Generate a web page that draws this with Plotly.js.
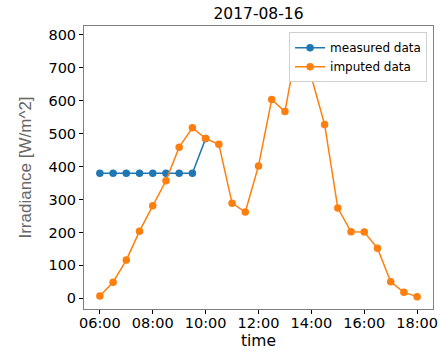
<!DOCTYPE html>
<html>
<head>
<meta charset="utf-8">
<script src="https://cdn.plot.ly/plotly-3.0.1.min.js"></script>
<style>
  html, body { margin: 0; padding: 0; background: #fff; }
  #chart { width: 439px; height: 350px; }
</style>
</head>
<body>
<div id="chart"></div>
<script>
// Half-hourly irradiance on 2017-08-16
const day = '2017-08-16';
const measuredTimes = ['06:00', '06:30', '07:00', '07:30', '08:00', '08:30', '09:00', '09:30', '10:00'];
const measuredValues = [380, 380, 380, 380, 380, 380, 380, 380, 485];

const imputedTimes = ['06:00', '06:30', '07:00', '07:30', '08:00', '08:30', '09:00', '09:30', '10:00',
  '10:30', '11:00', '11:30', '12:00', '12:30', '13:00', '13:30', '14:00', '14:30', '15:00',
  '15:30', '16:00', '16:30', '17:00', '17:30', '18:00'];
const imputedValues = [7, 49, 116, 204, 281, 357, 459, 518, 485,
  468, 289, 262, 402, 604, 567, 785, 672, 528, 274,
  202, 201, 152, 50, 18, 5];

const toStamp = t => day + ' ' + t;
const font = 'DejaVu Sans, sans-serif';

const traces = [
  {
    name: 'measured data',
    x: measuredTimes.map(toStamp),
    y: measuredValues,
    mode: 'lines+markers',
    line: { color: '#1f77b4', width: 1.5 },
    marker: { color: '#1f77b4', size: 7.5 }
  },
  {
    name: 'imputed data',
    x: imputedTimes.map(toStamp),
    y: imputedValues,
    mode: 'lines+markers',
    line: { color: '#ff7f0e', width: 1.5 },
    marker: { color: '#ff7f0e', size: 7.5 }
  }
];

const layout = {
  width: 439,
  height: 350,
  margin: { l: 84, r: 6, t: 26, b: 41 },
  paper_bgcolor: '#fff',
  plot_bgcolor: '#fff',
  font: { family: font, size: 14.5, color: '#000' },
  title: {
    text: day,
    font: { family: font, size: 15.5, color: '#000' },
    x: 0.5, xref: 'paper',
    y: 1 - 14 / 350, yref: 'container', yanchor: 'middle'
  },
  xaxis: {
    type: 'date',
    range: [day + ' 05:24', day + ' 18:36'],
    tick0: day + ' 06:00',
    dtick: 2 * 3600 * 1000,
    tickformat: '%H:%M',
    ticks: 'outside', ticklen: 4, tickcolor: '#000', tickwidth: 1,
    ticklabelstandoff: -3,
    showgrid: false, zeroline: false,
    showline: true, mirror: true, linecolor: '#7f7f7f', linewidth: 1,
    tickfont: { family: font, size: 14.5, color: '#000' },
    title: { text: 'time', font: { family: font, size: 15.5, color: '#000' }, standoff: 6 }
  },
  yaxis: {
    range: [-32.5, 827],
    tick0: 0, dtick: 100,
    ticks: 'outside', ticklen: 4, tickcolor: '#000', tickwidth: 1,
    showgrid: false, zeroline: false,
    showline: true, mirror: true, linecolor: '#7f7f7f', linewidth: 1,
    tickfont: { family: font, size: 14.5, color: '#000' },
    title: { text: 'Irradiance [W/m^2]', font: { family: 'Liberation Sans, Arial, sans-serif', size: 17, color: '#666' }, standoff: 12 }
  },
  legend: {
    x: 0.983, xanchor: 'right',
    y: 0.978, yanchor: 'top',
    bgcolor: '#ffffff',
    bordercolor: '#d0d0d0', borderwidth: 1,
    font: { family: font, size: 12, color: '#000' },
    itemwidth: 30,
    tracegroupgap: 0
  },
  showlegend: true
};

Plotly.newPlot('chart', traces, layout, { displayModeBar: false, staticPlot: true });
</script>
</body>
</html>
